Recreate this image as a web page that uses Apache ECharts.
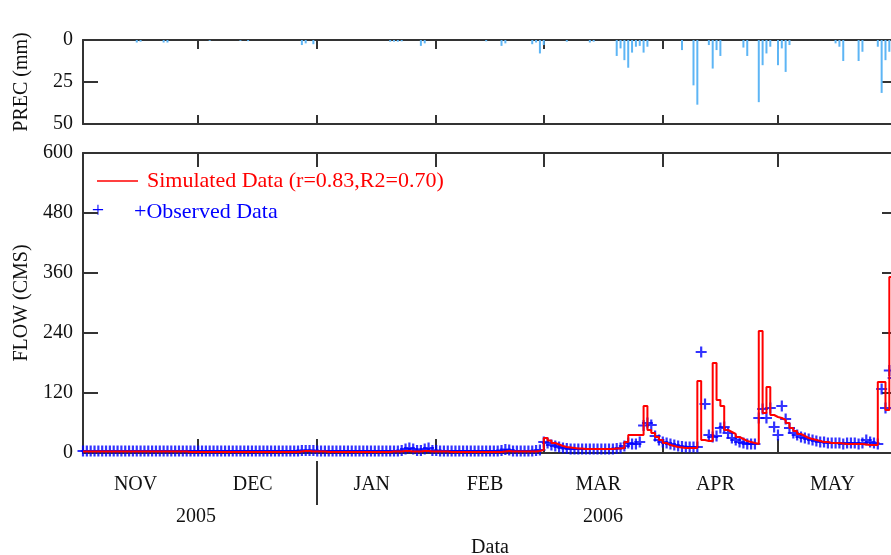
<!DOCTYPE html>
<html>
<head>
<meta charset="utf-8">
<script src="https://cdn.jsdelivr.net/npm/echarts@6/dist/echarts.min.js"></script>
<style>
    html, body { margin: 0; padding: 0; background: #fff; }
    #chart { width: 891px; height: 555px; }
</style>
</head>
<body>
<div id="chart"></div>
<script>
// x = day index counted from 1 Nov 2005 (0) to 1 Jun 2006 (212)
var months = ['NOV', 'DEC', 'JAN', 'FEB', 'MAR', 'APR', 'MAY'];
var monthDays = [30, 31, 31, 28, 31, 30, 31];
var years = ['2005', '2006'];
var yearMonths = [2, 5];          // how many of the months above fall in each year

var precTicks = [0, 25, 50];
var flowTicks = [0, 120, 240, 360, 480, 600];

// daily precipitation (mm)
var precNov = [0,0,0,0,0,0,0,0,0,0, 0,0,0,0,1.5,1,0,0,0,0, 0,1.5,1.5,0,0,0,0,0,0,0];
var precDec = [0,0,0,0.5,0,0,0,0,0,0, 0,0.5,0,0.7,0,0,0,0,0,0, 0,0,0,0,0,0,0,3,2,0, 2.5];
var precJan = [0,0,0,0,0,0,0,0,0,0, 0,0,0,0,0,0,0,0,0,1, 1,1,0.8,0,0,0,0,3.5,2,0, 0];
var precFeb = [0,0,0,0,0,0,0,0,0,0, 0,0,0,0.8,0,0,0,3.5,2,0, 0,0,0,0,0,2.5,1.5,8];
var precMar = [3,0,0,0,0,0,1,0,0,0, 0,0,1.5,1,0,0,0,0,0,9.5, 5,12,16.5,7.5,4,3.5,7.5,4,0,0, 0];
var precApr = [0,0,0,0,0,6,0,0,27,38.5, 0,0,3,17,6,9.5,0,0,0,0, 0,4.5,9.5,0,0,37,15,8,4,0];
var precMay = [15,5,19,3,0,0,0,0,0,0, 0,0,0,0,0,2,4,12.5,0,0, 0,12.5,7,0,0,0,4,31.5,12,7, 8];

// daily simulated flow (CMS)
var simNov = [3,3,3,3,3,3,3,3,3,3, 3,3,3,3,3,3,3,3,3,3, 3,3,3,3,3,3,3,2,2,2];
var simDec = [2,2,2,2,2,2,2,2,2,2, 2,2,2,2,2,2,2,2,2,2, 2,2,2,2,2,2,3,4,4,3, 3];
var simJan = [3,3,2,2,2,2,2,2,2,2, 2,2,2,2,2,2,2,2,2,3, 3,3,4,4,3,3,3,4,4,3, 3];
var simFeb = [3,3,3,2,2,2,2,2,2,2, 2,2,2,2,2,2,2,3,4,3, 3,3,3,3,3,3,4,6];
var simMar = [30,25,20,17,14,12,11,10,9,9, 8,8,8,8,8,8,8,8,9,9, 10,22,36,36,36,36,94,46,40,32, 26];
var simApr = [20,16,14,12,11,10,10,10,10,144, 26,24,24,180,106,94,46,42,38,32, 28,24,22,20,18,244,80,132,76,72];
var simMay = [70,66,60,50,44,38,34,30,28,26, 24,22,22,20,20,20,19,18,18,18, 18,18,17,16,16,16,142,142,86,352, 352];

// daily observed flow (CMS)
var obsNov = [4,4,4,4,4,4,4,4,4,4, 4,4,4,4,4,4,4,4,4,4, 4,4,4,4,4,4,4,4,4,4];
var obsDec = [4,4,4,4,4,4,4,4,4,4, 4,4,4,4,4,4,4,4,4,4, 4,4,4,4,4,4,4,5,5,5, 5];
var obsJan = [4,4,4,4,4,4,4,4,4,4, 4,4,4,4,4,4,4,4,4,4, 4,4,5,8,10,8,5,5,8,10, 5];
var obsFeb = [5,4,4,4,4,4,4,4,4,4, 4,4,4,4,4,4,4,5,7,6, 4,4,4,4,4,4,5,6];
var obsMar = [22,20,16,14,12,10,9,8,8,8, 8,8,8,8,8,8,8,8,8,9, 10,14,20,18,18,22,55,60,56,34, 26];
var obsApr = [22,20,18,16,14,13,12,12,12,12, 202,98,36,32,34,50,52,40,30,26, 22,20,18,18,18,70,88,70,90,52];
var obsMay = [36,94,68,50,40,36,32,30,28,26, 24,22,22,20,20,20,20,18,20,20, 20,18,20,26,22,20,18,128,90,165, 150];

var simLabel = 'Simulated Data (r=0.83,R2=0.70)';
var obsLabel = '+Observed Data';

(function () {
    var prec = precNov.concat(precDec, precJan, precFeb, precMar, precApr, precMay);
    var sim = simNov.concat(simDec, simJan, simFeb, simMar, simApr, simMay);
    var obs = obsNov.concat(obsDec, obsJan, obsFeb, obsMar, obsApr, obsMay);

    var totalDays = 0, bounds = [], centers = [];
    for (var i = 0; i < monthDays.length; i++) {
        centers.push(totalDays + monthDays[i] / 2);
        totalDays += monthDays[i];
        bounds.push(totalDays);
    }
    var innerBounds = bounds.slice(0, bounds.length - 1);

    var yearCenters = [], yearBounds = [], m = 0, start = 0;
    for (var y = 0; y < years.length; y++) {
        var len = 0;
        for (var k = 0; k < yearMonths[y]; k++) { len += monthDays[m++]; }
        yearCenters.push(start + len / 2);
        start += len;
        yearBounds.push(start);
    }

    function pairs(arr) {
        return arr.map(function (v, idx) { return [idx, v]; });
    }

    var FONT = 'Liberation Serif';
    var AXIS_COLOR = '#333';
    var axisLine = { show: true, onZero: false, lineStyle: { color: AXIS_COLOR, width: 2 } };

    function xAx(gridIndex, position, tickLen, extra) {
        var o = {
            type: 'value', gridIndex: gridIndex, position: position,
            min: 0, max: totalDays,
            axisLine: axisLine,
            axisTick: { show: true, inside: true, length: tickLen, customValues: innerBounds,
                lineStyle: { color: AXIS_COLOR, width: 2 } },
            axisLabel: { show: false },
            splitLine: { show: false }
        };
        for (var key in extra) { o[key] = extra[key]; }
        return o;
    }

    function yAx(gridIndex, position, max, interval, inverse, showLabel, extra) {
        var o = {
            type: 'value', gridIndex: gridIndex, position: position,
            min: 0, max: max, interval: interval, inverse: inverse,
            axisLine: axisLine,
            axisTick: { show: true, inside: true, length: 15, lineStyle: { color: AXIS_COLOR, width: 2 } },
            axisLabel: { show: showLabel, color: '#111', fontFamily: FONT, fontSize: 20, margin: 10 },
            splitLine: { show: false }
        };
        for (var key in extra) { o[key] = extra[key]; }
        return o;
    }

    var chart = echarts.init(document.getElementById('chart'));

    var option = {
        animation: false,
        backgroundColor: '#fff',
        grid: [
            { left: 83, top: 40, width: 814, height: 84, outerBoundsMode: 'none' },
            { left: 83, top: 153, width: 814, height: 300, outerBoundsMode: 'none' }
        ],
        xAxis: [
            xAx(0, 'bottom', 9, {}),
            xAx(0, 'top', 9, {}),
            xAx(1, 'bottom', 14, {
                axisLabel: {
                    show: true, customValues: centers, margin: 22, padding: [0, 10, 0, 0],
                    color: '#111', fontFamily: FONT, fontSize: 20,
                    formatter: function (v) {
                        var idx = centers.indexOf(v);
                        return idx >= 0 ? months[idx] : '';
                    }
                }
            }),
            xAx(1, 'top', 14, {}),
            xAx(1, 'bottom', 44, {
                offset: 8,
                axisLine: { show: true, onZero: false, lineStyle: { opacity: 0 } },
                axisTick: { show: true, inside: false, length: 44, customValues: yearBounds.slice(0, 1),
                    lineStyle: { color: AXIS_COLOR, width: 2 } },
                axisLabel: {
                    show: true, customValues: yearCenters, margin: 46, padding: [0, 8, 0, 0],
                    color: '#111', fontFamily: FONT, fontSize: 20,
                    formatter: function (v) {
                        var idx = yearCenters.indexOf(v);
                        return idx >= 0 ? years[idx] : '';
                    }
                },
                name: 'Data', nameLocation: 'middle', nameGap: 77,
                nameTextStyle: { color: '#111', fontFamily: FONT, fontSize: 20 }
            })
        ],
        yAxis: [
            yAx(0, 'left', precTicks[precTicks.length - 1], precTicks[1] - precTicks[0], true, true, {
                name: 'PREC (mm)', nameLocation: 'middle', nameGap: 51, nameRotate: 90,
                nameTextStyle: { color: '#111', fontFamily: FONT, fontSize: 20 }
            }),
            yAx(0, 'right', precTicks[precTicks.length - 1], precTicks[1] - precTicks[0], true, false, {}),
            yAx(1, 'left', flowTicks[flowTicks.length - 1], flowTicks[1] - flowTicks[0], false, true, {
                name: 'FLOW (CMS)', nameLocation: 'middle', nameGap: 49, nameRotate: 90,
                nameTextStyle: { color: '#111', fontFamily: FONT, fontSize: 20 }
            }),
            yAx(1, 'right', flowTicks[flowTicks.length - 1], flowTicks[1] - flowTicks[0], false, false, {})
        ],
        series: [
            {
                name: 'PREC',
                type: 'bar',
                xAxisIndex: 0, yAxisIndex: 0,
                barWidth: 2,
                itemStyle: { color: '#5db5f5' },
                data: pairs(prec)
            },
            {
                name: simLabel,
                type: 'line',
                xAxisIndex: 2, yAxisIndex: 2,
                step: 'end',
                showSymbol: false,
                lineStyle: { color: '#ff0000', width: 2 },
                data: pairs(sim)
            },
            {
                name: obsLabel,
                type: 'scatter',
                xAxisIndex: 2, yAxisIndex: 2,
                symbol: 'path://M4,0h2v4h4v2h-4v4h-2v-4h-4v-2h4z',
                symbolSize: 11,
                itemStyle: { color: '#0000ff' },
                data: pairs(obs)
            }
        ],
        graphic: [
            { type: 'line', shape: { x1: 97, y1: 181, x2: 138, y2: 181 },
              style: { stroke: '#ff0000', lineWidth: 1.5 } },
            { type: 'text', x: 147, y: 181,
              style: { text: simLabel, fill: '#ff0000', font: '22px "Liberation Serif"', verticalAlign: 'middle' } },
            { type: 'text', x: 98, y: 211,
              style: { text: '+', fill: '#0000ff', font: '22px "Liberation Serif"', align: 'center', verticalAlign: 'middle' } },
            { type: 'text', x: 134, y: 212,
              style: { text: obsLabel, fill: '#0000ff', font: '22px "Liberation Serif"', verticalAlign: 'middle' } }
        ]
    };

    chart.setOption(option);
})();
</script>
</body>
</html>
